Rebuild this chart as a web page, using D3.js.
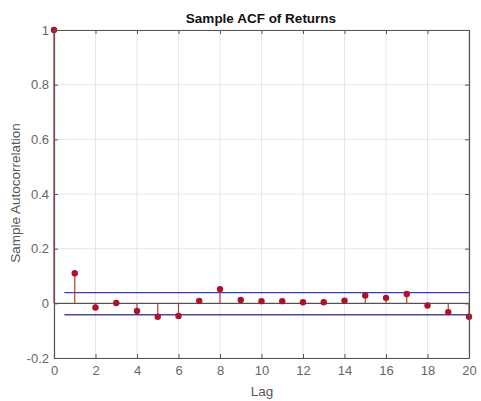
<!DOCTYPE html>
<html><head><meta charset="utf-8">
<script src="https://cdn.jsdelivr.net/npm/d3@7"></script>
<style>body{margin:0;background:#fff}svg{display:block}text{font-family:"Liberation Sans",Arial,sans-serif}</style>
</head><body><svg id="c" width="481" height="401"></svg>
<script>
const lags = [0,1,2,3,4,5,6,7,8,9,10,11,12,13,14,15,16,17,18,19,20];
const acf = [1,0.11,-0.015,0.001,-0.028,-0.049,-0.046,0.009,0.052,0.012,0.008,0.008,0.004,0.004,0.01,0.029,0.02,0.034,-0.008,-0.032,-0.049];
const bounds = [0.039,-0.042];
const xTicks = [0,2,4,6,8,10,12,14,16,18,20];
const yTicks = [-0.2,0,0.2,0.4,0.6,0.8,1];

const svg = d3.select("#c");
const m = {l:54, r:469, t:30, b:358};
const x = d3.scaleLinear().domain([0,20]).range([m.l,m.r]);
const y = d3.scaleLinear().domain([-0.2,1]).range([m.b,m.t]);
const g = svg.append("g");

// grid
g.selectAll(".gx").data(xTicks).join("line").attr("x1",d=>x(d)).attr("x2",d=>x(d)).attr("y1",m.t).attr("y2",m.b).attr("stroke","#e6e6e6").attr("stroke-width",1);
g.selectAll(".gy").data(yTicks).join("line").attr("y1",d=>y(d)).attr("y2",d=>y(d)).attr("x1",m.l).attr("x2",m.r).attr("stroke","#e6e6e6").attr("stroke-width",1);

// axes with inward ticks
const axCol = "#555";
const xb = svg.append("g").attr("transform",`translate(0,${m.b})`).call(d3.axisBottom(x).tickValues(xTicks).tickSizeInner(-4).tickSizeOuter(0).tickPadding(8));
const xt = svg.append("g").attr("transform",`translate(0,${m.t})`).call(d3.axisTop(x).tickValues(xTicks).tickSizeInner(-4).tickSizeOuter(0).tickFormat(""));
const yl = svg.append("g").attr("transform",`translate(${m.l},0)`).call(d3.axisLeft(y).tickValues(yTicks).tickSizeInner(-4).tickSizeOuter(0).tickPadding(5).tickFormat(d=>d3.format("~g")(d).replace("−","-")));
const yr = svg.append("g").attr("transform",`translate(${m.r},0)`).call(d3.axisRight(y).tickValues(yTicks).tickSizeInner(-4).tickSizeOuter(0).tickFormat(""));
[xb,xt,yl,yr].forEach(a=>{a.select(".domain").attr("stroke",axCol).attr("stroke-width",1.2);a.selectAll(".tick line").attr("stroke",axCol);a.selectAll("text").attr("fill","#666").style("font-size","13px").style("font-family","'Liberation Sans',Arial,sans-serif");});

// zero line
g.append("line").attr("x1",x(0)).attr("x2",x(20)).attr("y1",y(0)).attr("y2",y(0)).attr("stroke","#333").attr("stroke-width",1);

// bounds
g.selectAll(".bd").data(bounds).join("line").attr("x1",x(0.5)).attr("x2",x(20)).attr("y1",d=>y(d)).attr("y2",d=>y(d)).attr("stroke",(d,i)=>i?"#4a4a9a":"#3a3ac8").attr("stroke-width",1.4);

// stems
const data = lags.map((l,i)=>({l,v:acf[i]}));
g.selectAll(".st").data(data).join("line").attr("x1",d=>x(d.l)).attr("x2",d=>x(d.l)).attr("y1",y(0)).attr("y2",d=>y(d.v)).attr("stroke","#c0392b").attr("stroke-width",1.2);
g.selectAll(".pt").data(data).join("circle").attr("cx",d=>x(d.l)).attr("cy",d=>y(d.v)).attr("r",3.2).attr("fill","#b0102a");

// texts
svg.append("text").attr("x",261).attr("y",23).attr("text-anchor","middle").style("font-size","13.5px").style("font-weight","bold").attr("fill","#111").text("Sample ACF of Returns");
svg.append("text").attr("x",262).attr("y",396).attr("text-anchor","middle").style("font-size","13.5px").attr("fill","#555").text("Lag");
svg.append("text").attr("transform","translate(20,193) rotate(-90)").attr("text-anchor","middle").style("font-size","13.5px").attr("fill","#555").text("Sample Autocorrelation");
</script></body></html>
